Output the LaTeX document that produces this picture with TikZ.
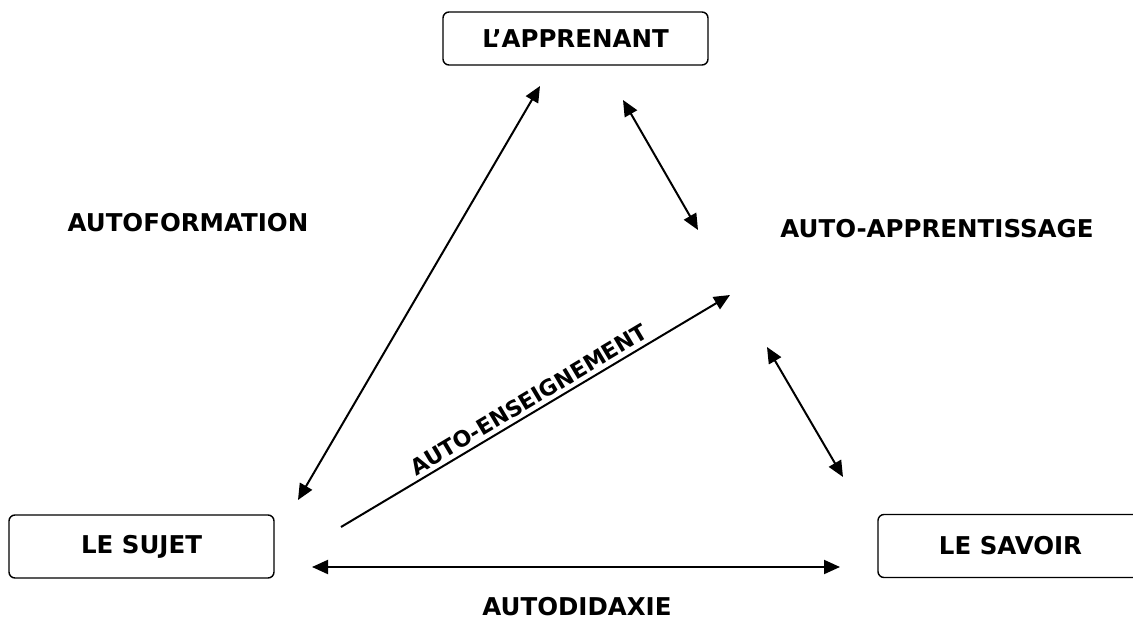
\documentclass[tikz,border=0pt]{standalone}
\usepackage{fontspec}
\setmainfont{DejaVu Sans}
\usetikzlibrary{arrows.meta}
\begin{document}
\begin{tikzpicture}[x=1pt, y=-1pt, font=\fontsize{24.5}{28}\selectfont\bfseries,
    main/.style = {draw, rounded corners=6pt, line width=1.4pt, minimum width=265pt, inner sep=0pt},
    link/.style = {line width=2pt, -{Triangle[length=16pt, width=14pt]}},
    both/.style = {link, {Triangle[length=16pt, width=14pt]}-{Triangle[length=16pt, width=14pt]}}]
  \useasboundingbox (0,0) rectangle (1133,618);
  % the three poles
  \node[main, minimum height=53pt] (apprenant) at (575.5,38.5) {L’APPRENANT};
  \node[main, minimum height=63pt] (sujet) at (141.5,546.5) {LE SUJET};
  \node[main, minimum height=63pt] (savoir) at (1010.5,546) {LE SAVOIR};
  % labels
  \node (autoformation) at (188,223) {AUTOFORMATION};
  \node (autoapprentissage) at (937,229) {AUTO-APPRENTISSAGE};
  \node[anchor=base, inner sep=0pt, text depth=0pt] (autodidaxie) at (577,615) {AUTODIDAXIE};
  % arrow ends
  \coordinate (af1) at (540,86);
  \coordinate (af2) at (298,500);
  \coordinate (aa1) at (623,100);
  \coordinate (aa2) at (698,230);
  \coordinate (ab1) at (767,347);
  \coordinate (ab2) at (843,477);
  \coordinate (ae1) at (341,527);
  \coordinate (ae2) at (730,295);
  \coordinate (ad1) at (312,567);
  \coordinate (ad2) at (840,567);
  % arrows
  \draw[both] (af1) -- (af2);
  \draw[both] (aa1) -- (aa2);
  \draw[both] (ab1) -- (ab2);
  \draw[both] (ad1) -- (ad2);
  \draw[link] (ae1) -- node[above, sloped, pos=0.5, inner sep=4pt, font=\fontsize{22}{26}\selectfont\bfseries] (autoenseignement) {AUTO-ENSEIGNEMENT} (ae2);
\end{tikzpicture}
\end{document}
